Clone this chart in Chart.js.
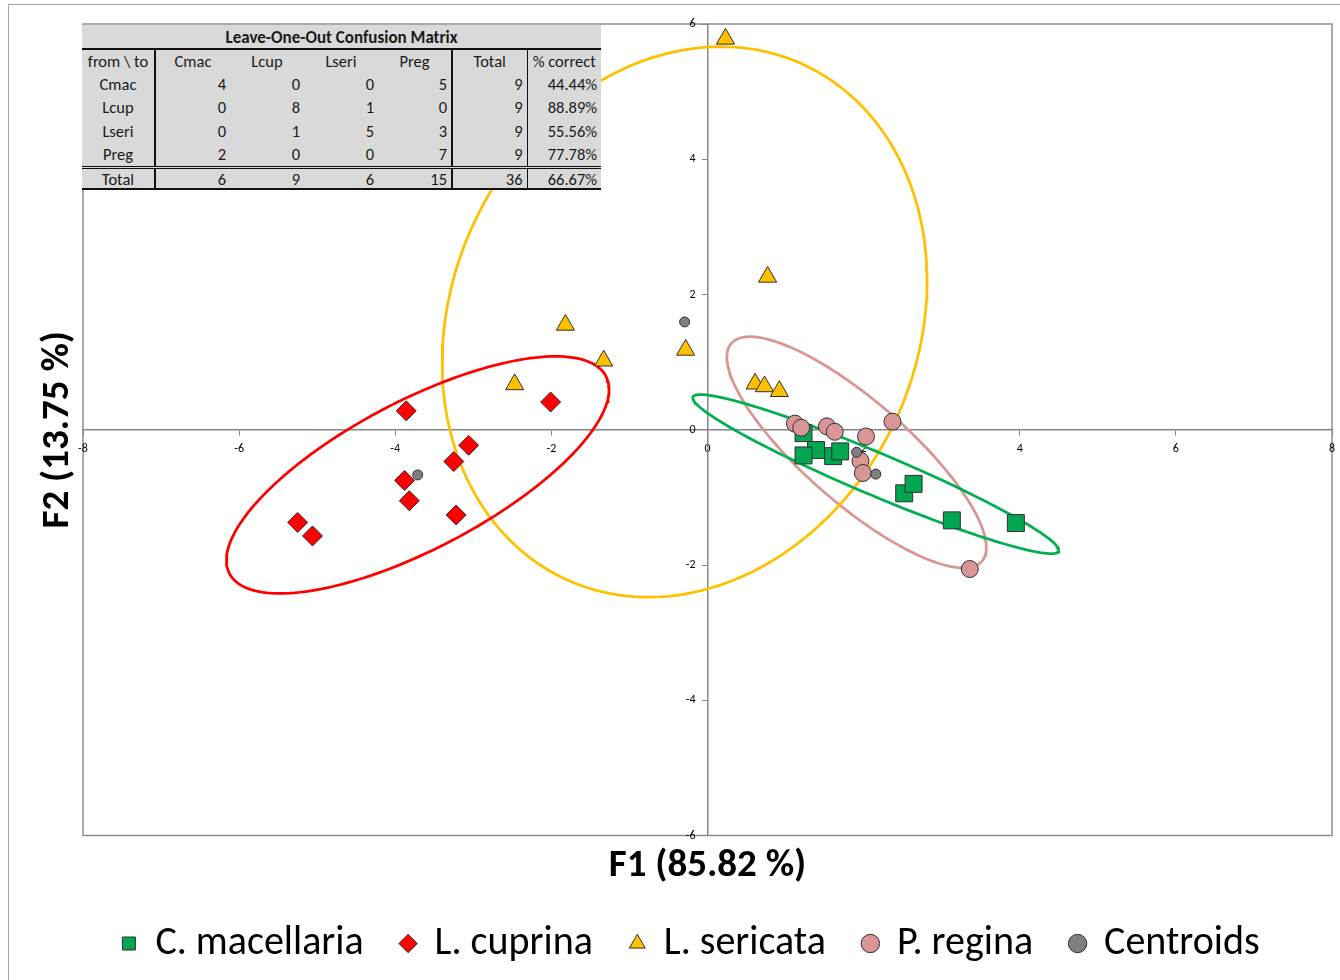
<!DOCTYPE html>
<html>
<head>
<meta charset="utf-8">
<title>Discriminant analysis - F1 / F2</title>
<script src="https://cdn.jsdelivr.net/npm/chart.js@4.4.0/dist/chart.umd.min.js"></script>
<style>
  body { margin: 0; background: #fff; }
  #wrap { position: relative; width: 1340px; height: 980px; }
  #confusion {
    position: absolute; left: 82px; top: 25px; width: 519px;
    border-collapse: collapse; table-layout: fixed;
    background: #d9d9d9; color: #1a1a1a;
    font-family: Carlito, Lato, sans-serif; font-size: 16.5px;
  }
  #confusion td { padding: 0 4px; height: 23.5px; line-height: 20px; white-space: nowrap; }
  #confusion .ttl td { font-weight: bold; font-size: 17px; text-align: center; border-bottom: 2px solid #111; height: 21px; padding-top: 2px; line-height: 19px; }
  #confusion .hd td { text-align: center; height: 22px; }
  #confusion td.lab { text-align: center; border-right: 2px solid #111; }
  #confusion td.num { text-align: right; }
  #confusion td.c4 { border-right: 2px solid #111; }
  #confusion td.c5 { border-right: 1.5px solid #111; }
  #confusion tr.tot td { border-top: 3px double #111; border-bottom: 2px solid #111; height: 19px; line-height: 16px; }
</style>
</head>
<body>
<div id="wrap">
  <canvas id="myChart" width="1340" height="980"></canvas>
  <table id="confusion"></table>
</div>
<script>
// scores on the two discriminant functions
const cmacF1 = [1.23, 1.39, 1.23, 1.61, 1.70, 2.52, 2.64, 3.13, 3.95];
const cmacF2 = [-0.05, -0.30, -0.38, -0.39, -0.32, -0.94, -0.80, -1.34, -1.38];
const lcupF1 = [-3.86, -2.01, -3.06, -3.25, -3.88, -3.82, -3.22, -5.25, -5.06];
const lcupF2 = [0.28, 0.41, -0.23, -0.47, -0.75, -1.05, -1.26, -1.37, -1.57];
const lseriF1 = [0.23, 0.77, -1.82, -1.33, -0.28, -2.47, 0.61, 0.73, 0.92];
const lseriF2 = [5.78, 2.26, 1.55, 1.02, 1.18, 0.67, 0.68, 0.64, 0.57];
const pregF1 = [1.12, 1.20, 1.53, 1.63, 2.03, 2.37, 1.96, 1.99, 3.36];
const pregF2 = [0.09, 0.03, 0.05, -0.03, -0.10, 0.12, -0.46, -0.64, -2.06];

// confusion matrix table
const classNames = ["Cmac", "Lcup", "Lseri", "Preg"];
const confusion = [[4, 0, 0, 5], [0, 8, 1, 0], [0, 1, 5, 3], [2, 0, 0, 7]];
const rowTotals = [9, 9, 9, 9];
const pctCorrect = ["44.44%", "88.89%", "55.56%", "77.78%"];
const colTotals = [6, 9, 6, 15];
const grandTotal = 36;
const totalPct = "66.67%";

const FONT = "Carlito, Lato, sans-serif";

function pts(xs, ys) {
   return xs.map((x, i) => ({ x: x, y: ys[i] }));
}

function mean(a) {
   return a.reduce((s, v) => s + v, 0) / a.length;
}

// 95% confidence ellipse from the group's own covariance (chi2, 2 df = 5.991)
function ellipse(xs, ys) {
   let mx = mean(xs), my = mean(ys), n = xs.length;
   let sxx = 0, syy = 0, sxy = 0;
   for (let i = 0; i < n; i++) {
      sxx += (xs[i] - mx) ** 2;
      syy += (ys[i] - my) ** 2;
      sxy += (xs[i] - mx) * (ys[i] - my);
   }
   sxx /= n - 1; syy /= n - 1; sxy /= n - 1;
   let k = Math.sqrt(5.991);
   let a = Math.sqrt(sxx), b = sxy / a, c = Math.sqrt(syy - b * b);
   let out = [];
   for (let t = 0; t <= 360; t += 2) {
      let u = Math.cos(t * Math.PI / 180), v = Math.sin(t * Math.PI / 180);
      out.push({ x: mx + k * a * u, y: my + k * (b * u + c * v) });
   }
   return out;
}

const centroids = [
   { x: mean(cmacF1), y: mean(cmacF2) },
   { x: mean(lcupF1), y: mean(lcupF2) },
   { x: mean(lseriF1), y: mean(lseriF2) },
   { x: mean(pregF1), y: mean(pregF2) }
];

// build the table
let html = '<colgroup><col style="width:73px"><col style="width:75px"><col style="width:74px"><col style="width:74px"><col style="width:74px"><col style="width:75px"><col style="width:74px"></colgroup>';
html += '<tr class="ttl"><td colspan="7">Leave-One-Out Confusion Matrix</td></tr>';
html += '<tr class="hd"><td class="lab">from \\ to</td>' + classNames.map((c, i) => '<td class="c' + (i + 1) + '">' + c + '</td>').join("") + '<td class="c5">Total</td><td>% correct</td></tr>';
confusion.forEach((row, r) => {
   html += '<tr><td class="lab">' + classNames[r] + '</td>' + row.map((v, i) => '<td class="num c' + (i + 1) + '">' + v + '</td>').join("") +
      '<td class="num c5">' + rowTotals[r] + '</td><td class="num">' + pctCorrect[r] + '</td></tr>';
});
html += '<tr class="tot"><td class="lab">Total</td>' + colTotals.map((v, i) => '<td class="num c' + (i + 1) + '">' + v + '</td>').join("") +
   '<td class="num c5">' + grandTotal + '</td><td class="num">' + totalPct + '</td></tr>';
document.getElementById("confusion").innerHTML = html;

// outer frame + plot area box
const framePlugin = {
   id: "frame",
   beforeDraw(chart) {
      const { ctx, chartArea: a } = chart;
      ctx.save();
      ctx.strokeStyle = "#a6a6a6";
      ctx.lineWidth = 1;
      ctx.strokeRect(8.5, 4.5, 1340, 990);
      ctx.strokeStyle = "#8f8f8f";
      ctx.lineWidth = 1.5;
      ctx.strokeRect(a.left, a.top, a.right - a.left, a.bottom - a.top);
      ctx.restore();
   }
};

const markerBorder = "#303030";

function ellipseSet(xs, ys, color) {
   return {
      label: "", data: ellipse(xs, ys), showLine: true, pointRadius: 0, pointHoverRadius: 0,
      borderColor: color, borderWidth: 2.75, fill: false, order: 5
   };
}

// the crossing axes should not push the plot area in
function noEdgePadding(scale) {
   scale.paddingLeft = 0;
   scale.paddingRight = 0;
   scale.paddingTop = 0;
   scale.paddingBottom = 0;
}

let ctx = document.getElementById("myChart").getContext("2d");
let myChart = new Chart(ctx, {
   type: "scatter",
   data: {
      datasets: [
         { label: "C. macellaria", data: pts(cmacF1, cmacF2), pointStyle: "rect", pointRadius: 12, backgroundColor: "#00a651", borderColor: markerBorder, borderWidth: 1, order: 4, clip: false },
         { label: "L. cuprina", data: pts(lcupF1, lcupF2), pointStyle: "rectRot", pointRadius: 10, backgroundColor: "#ff0000", borderColor: markerBorder, borderWidth: 1, order: 3, clip: false },
         { label: "L. sericata", data: pts(lseriF1, lseriF2), pointStyle: "triangle", pointRadius: 10.5, backgroundColor: "#ffc000", borderColor: markerBorder, borderWidth: 1, order: 2, clip: false },
         { label: "P. regina", data: pts(pregF1, pregF2), pointStyle: "circle", pointRadius: 8.5, backgroundColor: "#d99694", borderColor: markerBorder, borderWidth: 1, order: 1, clip: false },
         { label: "Centroids", data: centroids, pointStyle: "circle", pointRadius: 5, backgroundColor: "#7f7f7f", borderColor: markerBorder, borderWidth: 1, order: 0, clip: false },
         ellipseSet(cmacF1, cmacF2, "#00b050"),
         ellipseSet(lcupF1, lcupF2, "#ff0000"),
         ellipseSet(lseriF1, lseriF2, "#ffc000"),
         ellipseSet(pregF1, pregF2, "#d99694")
      ]
   },
   options: {
      responsive: false,
      animation: false,
      // autoPadding would reserve room for the big markers on the right edge
      layout: { autoPadding: false, padding: { left: 50, top: 24, right: 8, bottom: 6.5 } },
      plugins: {
         tooltip: { enabled: false },
         legend: {
            position: "bottom",
            labels: {
               filter: (item) => item.datasetIndex < 5,
               sort: (a, b) => a.datasetIndex - b.datasetIndex,
               usePointStyle: true,
               boxWidth: 13,
               boxHeight: 13,
               padding: 38,
               color: "#000",
               font: { family: FONT, size: 40 }
            }
         }
      },
      scales: {
         x: {
            type: "linear", position: { y: 0 }, min: -8, max: 8,
            afterFit: noEdgePadding,
            ticks: { stepSize: 2, color: "#000", padding: 7, font: { family: FONT, size: 12 } },
            grid: { drawOnChartArea: false, tickLength: 5, color: "#868686" },
            border: { color: "#868686", width: 1.5 }
         },
         y: {
            type: "linear", position: { x: 0 }, min: -6, max: 6,
            afterFit: noEdgePadding,
            // labels sit right on the axis for a value-positioned y scale, so pad with an em space
            ticks: { stepSize: 2, color: "#000", font: { family: FONT, size: 12 }, callback: (v) => v + "\u2003" },
            grid: { drawOnChartArea: false, tickLength: 5, color: "#868686" },
            border: { color: "#868686", width: 1.5 }
         },
         xTitle: {
            type: "linear", position: "bottom",
            afterFit: noEdgePadding,
            ticks: { display: false },
            grid: { display: false, drawTicks: false },
            border: { display: false },
            title: { display: true, text: "F1 (85.82 %)", color: "#000", padding: { top: 11, bottom: 0 }, font: { family: FONT, size: 39, weight: "bold", lineHeight: 1 } }
         },
         yTitle: {
            type: "linear", position: "left",
            afterFit: noEdgePadding,
            ticks: { display: false },
            grid: { display: false, drawTicks: false },
            border: { display: false },
            // negative top padding pulls the title back towards the frame edge
            title: { display: true, text: "F2 (13.75 %)", color: "#000", padding: { top: -11.5, bottom: 5.5 }, font: { family: FONT, size: 39, weight: "bold", lineHeight: 1 } }
         }
      }
   },
   plugins: [framePlugin]
});
</script>
</body>
</html>
